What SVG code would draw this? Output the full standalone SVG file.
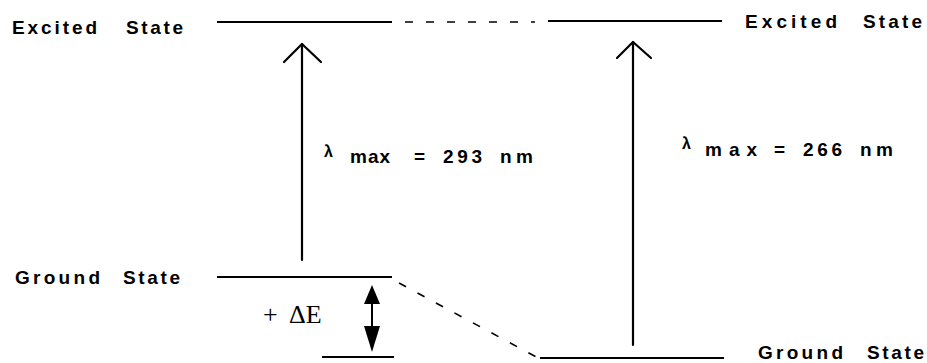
<svg xmlns="http://www.w3.org/2000/svg" width="927" height="363" viewBox="0 0 927 363">
<style>
.lvl{stroke:#000;stroke-width:2;fill:none}
.dash{stroke:#000;stroke-width:1.6;fill:none;stroke-dasharray:8 13}
.arr{stroke:#000;stroke-width:2.2;fill:none;stroke-linecap:round;stroke-linejoin:round}
.lbl{font-family:"Liberation Sans",Arial,sans-serif;font-weight:bold;font-size:19px;fill:#000}
.lam{font-family:"Liberation Sans",Arial,sans-serif;font-weight:bold;font-size:19px;fill:#000}
.small{font-size:16px}
.de{font-family:"Liberation Serif","Times New Roman",serif;font-size:26px;fill:#000}
</style>
<rect width="927" height="363" fill="#fff"/>
<g id="excited-left">
<line class="lvl" x1="217" y1="22" x2="392" y2="22"/>
<text class="lbl" y="34"><tspan x="12" textLength="85" lengthAdjust="spacing">Excited</tspan><tspan x="126" textLength="57" lengthAdjust="spacing">State</tspan></text>
</g>
<g id="excited-right">
<line class="lvl" x1="548" y1="21" x2="722" y2="21"/>
<text class="lbl" y="28"><tspan x="745" textLength="92" lengthAdjust="spacing">Excited</tspan><tspan x="863" textLength="59" lengthAdjust="spacing">State</tspan></text>
</g>
<g id="ground-left">
<line class="lvl" x1="217" y1="277" x2="392" y2="277"/>
<text class="lbl" y="284"><tspan x="15" textLength="85" lengthAdjust="spacing">Ground</tspan><tspan x="123" textLength="57" lengthAdjust="spacing">State</tspan></text>
</g>
<g id="ground-lower">
<line class="lvl" x1="322" y1="357" x2="394" y2="357"/>
</g>
<g id="ground-right">
<line class="lvl" x1="540" y1="358" x2="724" y2="358"/>
<text class="lbl" y="359"><tspan x="758" textLength="85" lengthAdjust="spacing">Ground</tspan><tspan x="867" textLength="57" lengthAdjust="spacing">State</tspan></text>
</g>
<g id="connectors">
<line class="dash" x1="405" y1="22" x2="535" y2="22"/>
<line class="dash" x1="399" y1="283" x2="540" y2="359"/>
<line class="arr" x1="302" y1="44" x2="302" y2="260"/>
<polyline class="arr" points="284,62 302,44 321,62"/>
<line class="arr" x1="633" y1="42" x2="633" y2="345"/>
<polyline class="arr" points="617,58 633,42 651,58"/>
<line x1="372" y1="298" x2="372" y2="332" stroke="#000" stroke-width="2"/>
<polygon points="372,285 364,304 380,304" fill="#000"/>
<polygon points="372,352 364,326 380,326" fill="#000"/>
</g>
<g id="labels">
<text class="lam"><tspan class="small" x="324" y="157">λ</tspan><tspan x="350" y="163" textLength="40" lengthAdjust="spacing">max</tspan><tspan x="414" y="163">=</tspan><tspan x="443" y="163" textLength="39" lengthAdjust="spacing">293</tspan><tspan x="500" y="163" textLength="33" lengthAdjust="spacing">nm</tspan></text>
<text class="lam"><tspan class="small" x="682" y="149">λ</tspan><tspan x="705" y="156" textLength="52" lengthAdjust="spacing">max</tspan><tspan x="774" y="156">=</tspan><tspan x="803" y="156" textLength="39" lengthAdjust="spacing">266</tspan><tspan x="860" y="156" textLength="33" lengthAdjust="spacing">nm</tspan></text>
<text class="de" y="323"><tspan x="263">+</tspan><tspan x="289">ΔE</tspan></text>
</g>
</svg>
